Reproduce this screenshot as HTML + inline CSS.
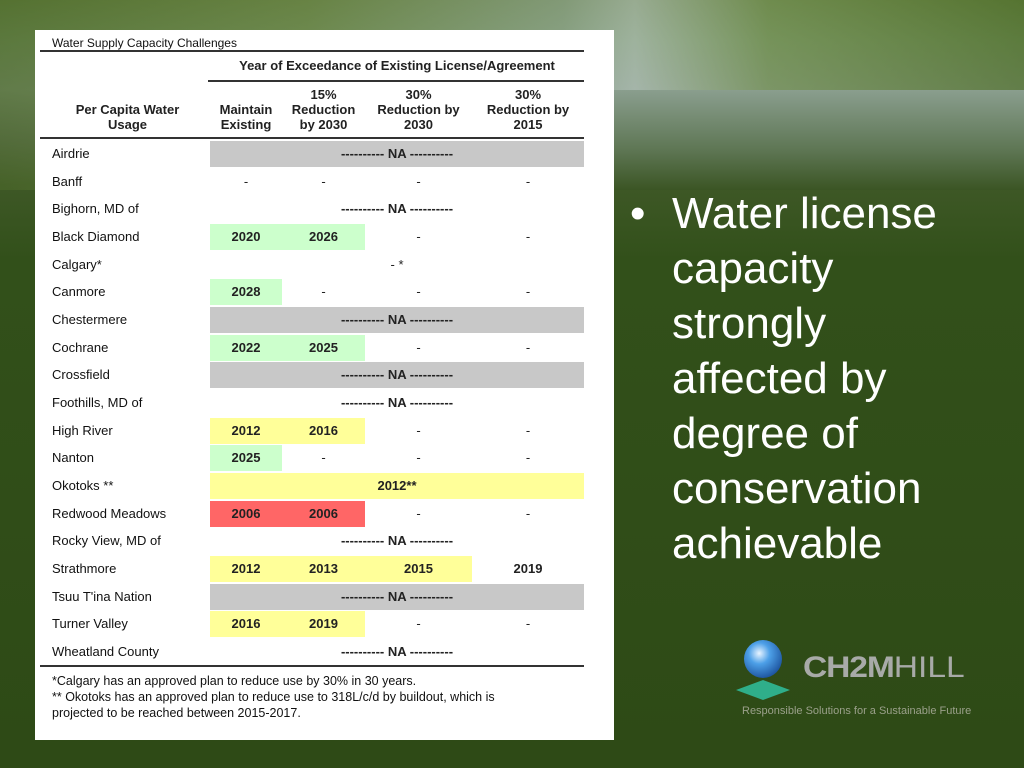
<!DOCTYPE html>
<html><head><meta charset="utf-8"><style>
body{margin:0;width:1024px;height:768px;overflow:hidden;position:relative;font-family:"Liberation Sans",sans-serif;
background:linear-gradient(180deg,#5e7a3a 0px,#6c8a55 40px,#7a9070 90px,#5b6e50 140px,#3e5826 185px,#32501a 260px,#2e4a16 768px);}
#photo{position:absolute;left:0;top:0;width:1024px;height:190px;
background:linear-gradient(90deg,#4d6a2a 0%,#6f8a4c 30%,#9fb3a8 55%,#c7d3d8 62%,#7d9a5e 75%,#4f6f2a 100%);opacity:.55}
#water{position:absolute;left:610px;top:90px;width:414px;height:100px;background:linear-gradient(180deg,#8a9e8e,#5e7654 60%,#3b5524);}
#card{position:absolute;left:35px;top:30px;width:579px;height:710px;background:#fff}
.t{position:absolute;font-size:13px;color:#111;white-space:nowrap}
.h{position:absolute;font-size:13px;font-weight:bold;color:#222;text-align:center;line-height:15px}
.ln{position:absolute;height:1px;background:#333}
.cell{position:absolute;height:26px;font-size:13px;font-weight:bold;line-height:26px;text-align:center;color:#222}
#bullet{position:absolute;left:630px;top:186px;color:#fff;font-size:44px;line-height:55px;white-space:nowrap}
</style></head><body>
<div id="photo"></div>
<div id="water"></div>
<div id="card">
 <div class="t" style="left:17px;top:6px;font-size:12px">Water Supply Capacity Challenges</div>
 <div class="ln" style="left:5px;top:20px;width:544px;height:2px"></div>
 <div class="h" style="left:175px;top:28px;width:374px">Year of Exceedance of Existing License/Agreement</div>
 <div class="ln" style="left:173px;top:50px;width:376px;height:2px"></div>
 <div class="h" style="left:15px;top:72px;width:155px">Per Capita Water<br>Usage</div>
 <div class="h" style="left:175px;top:72px;width:72px">Maintain<br>Existing</div>
 <div class="h" style="left:247px;top:57px;width:83px">15%<br>Reduction<br>by 2030</div>
 <div class="h" style="left:330px;top:57px;width:107px">30%<br>Reduction by<br>2030</div>
 <div class="h" style="left:437px;top:57px;width:112px">30%<br>Reduction by<br>2015</div>
 <div class="ln" style="left:5px;top:107px;width:544px;height:2px"></div>
 <div id="rows"></div>
 <div class="ln" style="left:5px;top:635px;width:544px;height:2px"></div>
 <div class="t" style="left:17px;top:643px;font-size:12.5px;line-height:16px">*Calgary has an approved plan to reduce use by 30% in 30 years.<br>** Okotoks has an approved plan to reduce use to 318L/c/d by buildout, which is<br>projected to be reached between 2015-2017.</div>
</div>
<div id="bullet">•<span style="position:absolute;left:42px;top:0">Water license<br>capacity<br>strongly<br>affected by<br>degree of<br>conservation<br>achievable</span></div>
<svg style="position:absolute;left:730px;top:636px" width="66" height="68">
 <defs><radialGradient id="g" cx=".4" cy=".35" r=".7"><stop offset="0" stop-color="#e8f4ff"/><stop offset=".4" stop-color="#4da0e8"/><stop offset="1" stop-color="#1a4f9a"/></radialGradient></defs>
 <circle cx="33" cy="23" r="19" fill="url(#g)"/>
 <polygon points="33,44 60,54 33,64 6,54" fill="#2fae8a"/>
</svg>
<div style="position:absolute;left:803px;top:651px;font-size:30px;font-weight:bold;color:#a8aaa8;letter-spacing:-1px;transform:scaleX(1.12);transform-origin:left">CH2M<span style="font-weight:normal;letter-spacing:0">HILL</span></div>
<div style="position:absolute;left:742px;top:705px;font-size:11px;color:#9aa08a">Responsible Solutions for a Sustainable Future</div>
<script>
const names=["Airdrie","Banff","Bighorn, MD of","Black Diamond","Calgary*","Canmore","Chestermere","Cochrane","Crossfield","Foothills, MD of","High River","Nanton","Okotoks **","Redwood Meadows","Rocky View, MD of","Strathmore","Tsuu T'ina Nation","Turner Valley","Wheatland County"];
const kinds=["NAg","vals","NA","vals","span","vals","NAg","vals","NAg","NA","vals","vals","spany","vals","NA","vals","NAg","vals","NA"];
const vals=[[],["-","-","-","-"],[],["2020","2026","-","-"],["- *"],["2028","-","-","-"],[],["2022","2025","-","-"],[],[],["2012","2016","-","-"],["2025","-","-","-"],["2012**"],["2006","2006","-","-"],[],["2012","2013","2015","2019"],[],["2016","2019","-","-"],[]];
const fills=[[],["","","",""],[],["g","g","",""],[""],["g","","",""],[],["g","g","",""],[],[],["y","y","",""],["g","","",""],["y"],["r","r","",""],[],["y","y","y",""],[],["y","y","",""],[]];
const colL=[175,247,330,437],colW=[72,83,107,112];
const cmap={g:"#ccffcc",y:"#ffff99",r:"#ff6666","":"transparent"};
const R=document.getElementById('rows');
names.forEach((n,i)=>{
 const top=111+i*27.67;
 const lab=document.createElement('div');lab.className='t';lab.style.left='17px';lab.style.top=(top+5)+'px';lab.textContent=n;
 
 
 R.appendChild(lab);
 const k=kinds[i];
 const mk=(l,w,txt,bg,bold)=>{const c=document.createElement('div');c.className='cell';c.style.left=l+'px';c.style.width=w+'px';c.style.top=top+'px';c.style.background=bg;c.textContent=txt;if(!bold)c.style.fontWeight='normal';
  
  
  R.appendChild(c);};
 if(k==="NAg"||k==="NA") mk(175,374,"---------- NA ----------",k==="NAg"?"#c8c8c8":"transparent",true);
 else if(k==="span") mk(175,374,vals[i][0],"transparent",false);
 else if(k==="spany") mk(175,374,vals[i][0],cmap.y,true);
 else vals[i].forEach((v,j)=>mk(colL[j],colW[j],v,cmap[fills[i][j]],v!=="-"));
});
</script>
</body></html>
